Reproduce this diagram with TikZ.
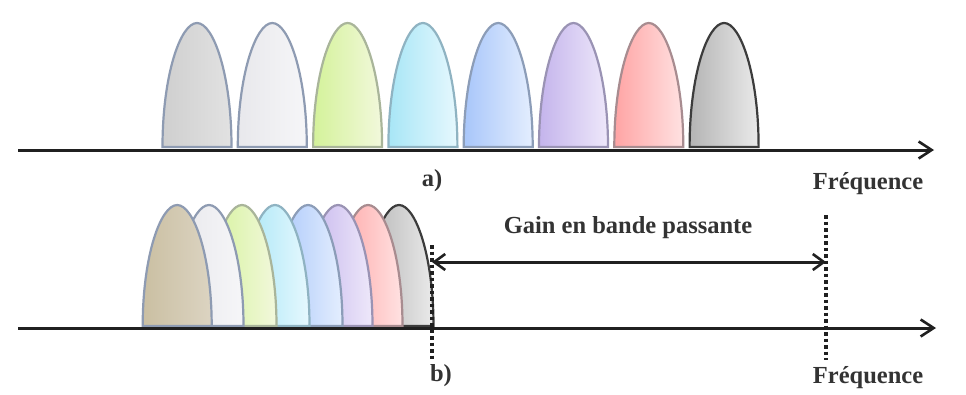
\documentclass[tikz,border=0pt]{standalone}
\usepackage{fontspec}
\setmainfont{Liberation Serif}
\usetikzlibrary{arrows.meta}
\definecolor{axiscol}{HTML}{202020}
\definecolor{txtcol}{HTML}{333333}
\definecolor{olGray}{HTML}{8E9BB2}
\definecolor{olGreen}{HTML}{A9B59A}
\definecolor{olCyan}{HTML}{8FB3C2}
\definecolor{olBlue}{HTML}{8C9DB8}
\definecolor{olPurple}{HTML}{9A93B4}
\definecolor{olRed}{HTML}{A88C90}
\definecolor{olDark}{HTML}{3C3C3C}
\definecolor{grayL}{HTML}{CFCFCF}\definecolor{grayR}{HTML}{E2E2E2}
\definecolor{whiteL}{HTML}{E8E8EC}\definecolor{whiteR}{HTML}{F6F6F8}
\definecolor{greenL}{HTML}{D4F29A}\definecolor{greenR}{HTML}{F2F8DC}
\definecolor{cyanL}{HTML}{A8E6F6}\definecolor{cyanR}{HTML}{E6F8FE}
\definecolor{blueL}{HTML}{A8C6FA}\definecolor{blueR}{HTML}{E4EEFE}
\definecolor{purpleL}{HTML}{C4B4EC}\definecolor{purpleR}{HTML}{EEE8FA}
\definecolor{redL}{HTML}{FFA4A4}\definecolor{redR}{HTML}{FFE2E2}
\definecolor{darkL}{HTML}{B4B4B4}\definecolor{darkR}{HTML}{EAEAEA}
\definecolor{tanL}{HTML}{CABFA2}\definecolor{tanR}{HTML}{DCD4C2}
\newcommand{\drawbell}[7]{%
  \path[draw=#5, line width=2.2, left color=#6, right color=#7]
    (#1-#4,#2) .. controls (#1-#4,#2-0.58*#2+0.58*#3) and (#1-0.48*#4,#3) .. (#1,#3)
    .. controls (#1+0.48*#4,#3) and (#1+#4,#2-0.58*#2+0.58*#3) .. (#1+#4,#2) -- cycle;}
\tikzset{
  axisline/.style={draw=axiscol, line width=3, -{Straight Barb[length=13pt,width=17pt,line width=2.6pt]}},
  gainarrow/.style={draw=axiscol, line width=3, {Straight Barb[length=11pt,width=16pt,line width=2.6pt]}-{Straight Barb[length=11pt,width=16pt,line width=2.6pt]}},
  limitline/.style={draw=axiscol, line width=3.2, dash pattern=on 3.5pt off 3pt},
  lab/.style={text=txtcol, font=\bfseries\fontsize{24.5}{27}\selectfont, inner sep=0pt}
}
\begin{document}
\begin{tikzpicture}[x=1pt,y=-1pt]
\useasboundingbox (0,0) rectangle (966,394);
\fill[white] (0,0) rectangle (966,394);
% ---- panel a ----
\drawbell{197}{147}{23}{34.5}{olGray}{grayL}{grayR}
\drawbell{272.3}{147}{23}{34.5}{olGray}{whiteL}{whiteR}
\drawbell{347.6}{147}{23}{34.5}{olGreen}{greenL}{greenR}
\drawbell{422.9}{147}{23}{34.5}{olCyan}{cyanL}{cyanR}
\drawbell{498.2}{147}{23}{34.5}{olBlue}{blueL}{blueR}
\drawbell{573.5}{147}{23}{34.5}{olPurple}{purpleL}{purpleR}
\drawbell{648.8}{147}{23}{34.5}{olRed}{redL}{redR}
\drawbell{724.1}{147}{23}{34.5}{olDark}{darkL}{darkR}
\coordinate (a0) at (18,150);
\coordinate (a1) at (934,150);
\draw[axisline] (a0) -- (a1);
\node[lab] (la) at (432,181) {a)};
\node[lab] (fa) at (868,184) {Fréquence};
% ---- panel b ----
\drawbell{399}{326}{205}{34.5}{olDark}{darkL}{darkR}
\drawbell{368}{326}{205}{34.5}{olRed}{redL}{redR}
\drawbell{338}{326}{205}{34.5}{olPurple}{purpleL}{purpleR}
\drawbell{308}{326}{205}{34.5}{olBlue}{blueL}{blueR}
\drawbell{275}{326}{205}{34.5}{olCyan}{cyanL}{cyanR}
\drawbell{242}{326}{205}{34.5}{olGreen}{greenL}{greenR}
\drawbell{209}{326}{205}{34.5}{olGray}{whiteL}{whiteR}
\drawbell{177.2}{326}{205}{34.5}{olGray}{tanL}{tanR}
\coordinate (b0) at (18,328);
\coordinate (b1) at (936,328);
\draw[axisline] (b0) -- (b1);
\coordinate (d1t) at (432,245);
\coordinate (d1b) at (432,362);
\coordinate (d2t) at (826,215);
\coordinate (d2b) at (826,360);
\draw[limitline] (d1t) -- (d1b);
\draw[limitline] (d2t) -- (d2b);
\coordinate (g0) at (432,262);
\coordinate (g1) at (826,262);
\draw[gainarrow] (g0) -- (g1);
\node[lab] (gl) at (628,228) {Gain en bande passante};
\node[lab] (lb) at (441,376) {b)};
\node[lab] (fb) at (868,378) {Fréquence};
\end{tikzpicture}
\end{document}
